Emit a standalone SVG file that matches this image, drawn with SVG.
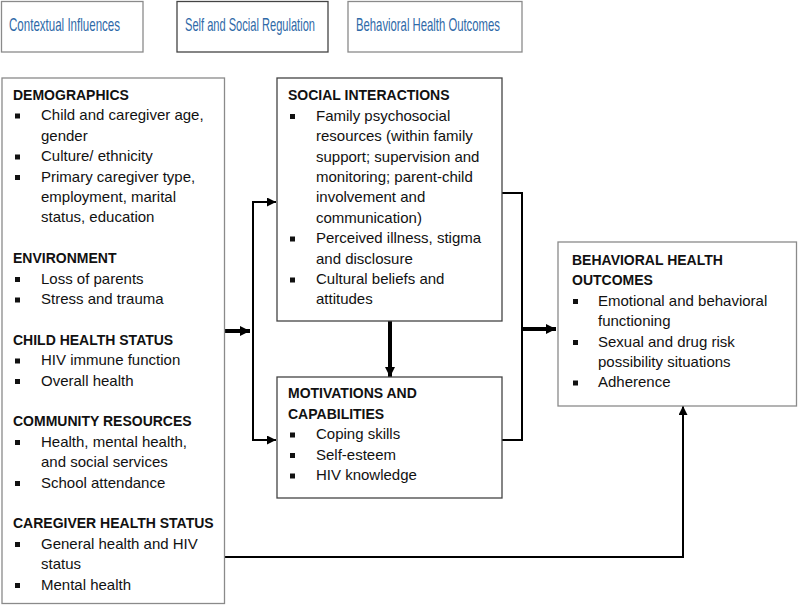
<svg xmlns="http://www.w3.org/2000/svg" width="800" height="606" viewBox="0 0 800 606">
<defs>
<style>
.box{fill:#fff;stroke:#8a8a8a;stroke-width:1.3}
.boxd{fill:#fff;stroke:#444;stroke-width:1.3}
.hdr{font-family:"Liberation Sans",Arial,sans-serif;font-size:18px;fill:#2f6aa8}
.t{font-family:"Liberation Sans",Arial,sans-serif;font-size:15px;fill:#111}
.h{font-family:"Liberation Sans",Arial,sans-serif;font-size:14px;font-weight:bold;fill:#111}
.b{fill:#111}
.ln{fill:none;stroke:#000;stroke-width:2}
.thk{fill:none;stroke:#000;stroke-width:4}
</style>
<marker id="ah" viewBox="0 0 10 10" refX="10" refY="5" markerWidth="9" markerHeight="9" markerUnits="userSpaceOnUse" orient="auto">
<path d="M0,0 L10,5 L0,10 z" fill="#000"/>
</marker>
<marker id="ahk" viewBox="0 0 10 10" refX="10" refY="5" markerWidth="10" markerHeight="10" markerUnits="userSpaceOnUse" orient="auto">
<path d="M0,0 L10,5 L0,10 z" fill="#000"/>
</marker>
</defs>
<rect width="800" height="606" fill="#fff"/>

<g id="hdr-contextual">
<rect class="box" x="1.5" y="1.5" width="141.5" height="50.5"/>
<text class="hdr" transform="translate(9,31) scale(0.642,1)" x="0" y="0">Contextual Influences</text>
</g>
<g id="hdr-regulation">
<rect class="boxd" x="177" y="1.5" width="151" height="50.5"/>
<text class="hdr" transform="translate(185,31) scale(0.616,1)" x="0" y="0">Self and Social Regulation</text>
</g>
<g id="hdr-outcomes">
<rect class="box" x="348" y="1.5" width="174" height="50.5"/>
<text class="hdr" transform="translate(356,31) scale(0.629,1)" x="0" y="0">Behavioral Health Outcomes</text>
</g>

<g id="connectors">
<path class="thk" d="M225,331 H250" marker-end="url(#ahk)"/>
<path class="ln" d="M253,201 V441"/>
<path class="ln" d="M252,202 H276" marker-end="url(#ah)"/>
<path class="ln" d="M252,440 H276" marker-end="url(#ah)"/>
<path class="thk" d="M390,321 V377" marker-end="url(#ahk)"/>
<path class="ln" d="M502,193 H522 V440 H502"/>
<path class="thk" d="M522,329 H556" marker-end="url(#ahk)"/>
<path class="ln" d="M225,557 H683 V406" marker-end="url(#ah)"/>
</g>

<g id="contextual-influences">
<rect class="box" x="2" y="78" width="222.5" height="525.5"/>
<text class="h" x="13" y="100">DEMOGRAPHICS</text>
<rect class="b" x="15" y="113.5" width="5" height="5"/>
<text class="t" x="41" y="120.4">Child and caregiver age,</text>
<text class="t" x="41" y="140.8">gender</text>
<rect class="b" x="15" y="154.5" width="5" height="5"/>
<text class="t" x="41" y="161.2">Culture/ ethnicity</text>
<rect class="b" x="15" y="175" width="5" height="5"/>
<text class="t" x="41" y="181.6">Primary caregiver type,</text>
<text class="t" x="41" y="202">employment, marital</text>
<text class="t" x="41" y="222.4">status, education</text>
<text class="h" x="13" y="263.2">ENVIRONMENT</text>
<rect class="b" x="15" y="277" width="5" height="5"/>
<text class="t" x="41" y="283.6">Loss of parents</text>
<rect class="b" x="15" y="297.5" width="5" height="5"/>
<text class="t" x="41" y="304">Stress and trauma</text>
<text class="h" x="13" y="344.8">CHILD HEALTH STATUS</text>
<rect class="b" x="15" y="358.5" width="5" height="5"/>
<text class="t" x="41" y="365.2">HIV immune function</text>
<rect class="b" x="15" y="379" width="5" height="5"/>
<text class="t" x="41" y="385.6">Overall health</text>
<text class="h" x="13" y="426.4">COMMUNITY RESOURCES</text>
<rect class="b" x="15" y="440" width="5" height="5"/>
<text class="t" x="41" y="446.8">Health, mental health,</text>
<text class="t" x="41" y="467.2">and social services</text>
<rect class="b" x="15" y="481" width="5" height="5"/>
<text class="t" x="41" y="487.6">School attendance</text>
<text class="h" x="13" y="528.4">CAREGIVER HEALTH STATUS</text>
<rect class="b" x="15" y="542" width="5" height="5"/>
<text class="t" x="41" y="548.8">General health and HIV</text>
<text class="t" x="41" y="569.2">status</text>
<rect class="b" x="15" y="583" width="5" height="5"/>
<text class="t" x="41" y="589.6">Mental health</text>
</g>

<g id="social-interactions">
<rect class="boxd" x="277" y="78" width="225" height="243"/>
<text class="h" x="288" y="100">SOCIAL INTERACTIONS</text>
<rect class="b" x="290" y="114" width="5" height="5"/>
<text class="t" x="316" y="120.8">Family psychosocial</text>
<text class="t" x="316" y="141.2">resources (within family</text>
<text class="t" x="316" y="161.6">support; supervision and</text>
<text class="t" x="316" y="182">monitoring; parent-child</text>
<text class="t" x="316" y="202.4">involvement and</text>
<text class="t" x="316" y="222.8">communication)</text>
<rect class="b" x="290" y="236.5" width="5" height="5"/>
<text class="t" x="316" y="243.2">Perceived illness, stigma</text>
<text class="t" x="316" y="263.6">and disclosure</text>
<rect class="b" x="290" y="277.5" width="5" height="5"/>
<text class="t" x="316" y="284">Cultural beliefs and</text>
<text class="t" x="316" y="304.4">attitudes</text>
</g>

<g id="motivations-capabilities">
<rect class="boxd" x="277" y="377" width="225" height="121"/>
<text class="h" x="288" y="398">MOTIVATIONS AND</text>
<text class="h" x="288" y="418.5">CAPABILITIES</text>
<rect class="b" x="290" y="432.5" width="5" height="5"/>
<text class="t" x="316" y="439">Coping skills</text>
<rect class="b" x="290" y="453" width="5" height="5"/>
<text class="t" x="316" y="459.5">Self-esteem</text>
<rect class="b" x="290" y="473.5" width="5" height="5"/>
<text class="t" x="316" y="480">HIV knowledge</text>
</g>

<g id="behavioral-health-outcomes">
<rect class="box" x="558" y="242" width="238.5" height="164"/>
<text class="h" x="572" y="265">BEHAVIORAL HEALTH</text>
<text class="h" x="572" y="285.4">OUTCOMES</text>
<rect class="b" x="573" y="299" width="5" height="5"/>
<text class="t" x="598" y="305.8">Emotional and behavioral</text>
<text class="t" x="598" y="326.2">functioning</text>
<rect class="b" x="573" y="340" width="5" height="5"/>
<text class="t" x="598" y="346.6">Sexual and drug risk</text>
<text class="t" x="598" y="367">possibility situations</text>
<rect class="b" x="573" y="380.5" width="5" height="5"/>
<text class="t" x="598" y="387.4">Adherence</text>
</g>
</svg>
